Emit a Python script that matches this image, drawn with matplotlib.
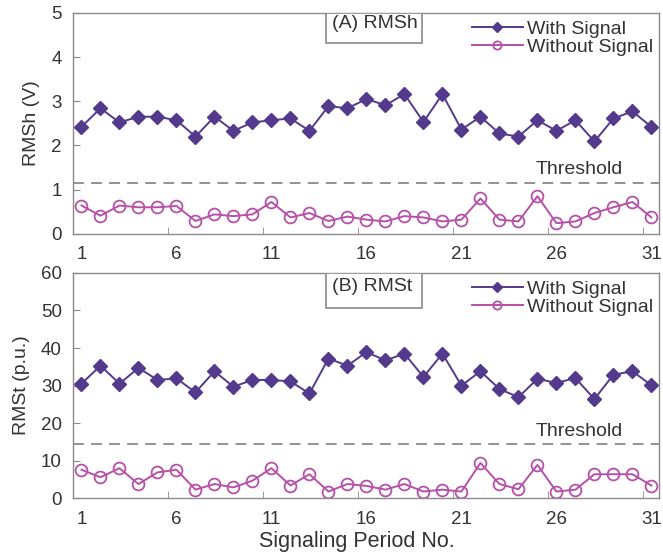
import matplotlib
matplotlib.use("Agg")
import matplotlib.pyplot as plt
from matplotlib.patches import Rectangle

plt.rcParams['font.family'] = ['Liberation Sans', 'DejaVu Sans']

# signaling periods
periods = list(range(1, 32))
tick_labels = ['1', '6', '11', '16', '21', '26', '31']

# (A) RMSh in volts
rmsh_with = [2.42, 2.84, 2.52, 2.65, 2.65, 2.57, 2.20, 2.65, 2.33, 2.52,
             2.57, 2.61, 2.33, 2.89, 2.84, 3.05, 2.91, 3.16, 2.53, 3.16,
             2.36, 2.65, 2.27, 2.20, 2.57, 2.33, 2.57, 2.09, 2.61, 2.77, 2.42]
rmsh_without = [0.64, 0.41, 0.64, 0.60, 0.60, 0.63, 0.29, 0.44, 0.40, 0.44,
                0.72, 0.37, 0.47, 0.29, 0.39, 0.32, 0.28, 0.40, 0.37, 0.28,
                0.32, 0.80, 0.32, 0.28, 0.85, 0.24, 0.28, 0.47, 0.60, 0.72, 0.37]
rmsh_threshold = 1.15

# (B) RMSt in p.u.
rmst_with = [30.5, 35.3, 30.5, 34.7, 31.5, 31.9, 28.2, 33.8, 29.7, 31.5,
             31.5, 31.1, 27.9, 37.2, 35.3, 38.9, 36.7, 38.5, 32.3, 38.5,
             30.0, 33.8, 29.1, 26.9, 31.8, 30.7, 32.0, 26.4, 32.9, 33.8, 30.1]
rmst_without = [7.6, 5.6, 8.0, 3.8, 6.9, 7.6, 2.3, 3.8, 2.9, 4.7,
                8.0, 3.4, 6.4, 1.8, 3.8, 3.3, 2.3, 3.8, 1.8, 2.3,
                1.8, 9.4, 3.8, 2.4, 8.9, 1.8, 2.3, 6.4, 6.4, 6.4, 3.4]
rmst_threshold = 14.5

purple = '#533a8c'
magenta = '#b650a8'
grey = '#8a8a8a'
text_col = '#333333'


def draw_panel(ax, with_sig, without_sig, threshold, ylim, yticks, ylabel, tag, thr_y, box_h, tag_y):
    ax.plot(periods, with_sig, color=purple, lw=1.4, marker='D', ms=7.5,
            mfc=purple, mec=purple, label='With Signal')
    ax.plot(periods, without_sig, color=magenta, lw=1.4, marker='o', ms=8.5,
            mfc='none', mec=magenta, mew=1.3, label='Without Signal')
    ax.axhline(threshold, color=grey, ls=(0, (6, 4)), lw=1.3)
    ax.text(29.5, thr_y, 'Threshold', ha='right', va='center', fontsize=14, color=text_col)

    ax.set_xlim(0.55, 31.4)
    ax.set_ylim(*ylim)
    ax.set_yticks(yticks)
    ax.set_ylabel(ylabel, fontsize=14, color=text_col, labelpad=8)

    # labels centred on the periods, tick marks slightly to the left
    major = [int(t) for t in tick_labels]
    ax.set_xticks(major)
    ax.set_xticklabels(tick_labels)
    ax.set_xticks([m - 0.45 for m in major], minor=True)
    ax.tick_params(axis='x', which='major', length=0, labelsize=13.5, colors=text_col, pad=9)
    ax.tick_params(axis='x', which='minor', direction='in', length=5, color=grey)
    ax.tick_params(axis='y', direction='in', length=5, color=grey, labelsize=13.5,
                   labelcolor=text_col, pad=8)

    for s in ax.spines.values():
        s.set_color(grey)
        s.set_linewidth(1.0)

    # panel tag box hanging from the top spine
    ax.add_patch(Rectangle((0.431, 1.0 - box_h), 0.165, box_h, transform=ax.transAxes,
                           fc='white', ec=grey, lw=1.2, zorder=5))
    ax.text(0.442, tag_y, tag, transform=ax.transAxes, ha='left', va='center', fontsize=14,
            color=text_col, zorder=6)
    ax.legend(loc='upper right', frameon=False, fontsize=14, handlelength=2.6,
              handletextpad=0.25, labelspacing=0.02, borderaxespad=0.0,
              bbox_to_anchor=(1.004, 1.0), labelcolor=text_col, markerscale=0.7)


fig = plt.figure(figsize=(6.63, 5.58), dpi=100)
ax1 = fig.add_axes([0.110, 0.581, 0.884, 0.396])
ax2 = fig.add_axes([0.110, 0.107, 0.884, 0.404])

draw_panel(ax1, rmsh_with, rmsh_without, rmsh_threshold, (0, 5), [0, 1, 2, 3, 4, 5],
           'RMSh (V)', '(A) RMSh', 1.45, 0.136, 0.95)
draw_panel(ax2, rmst_with, rmst_without, rmst_threshold, (0, 60), [0, 10, 20, 30, 40, 50, 60],
           'RMSt (p.u.)', '(B) RMSt', 17.7, 0.155, 0.94)

ax2.set_xlabel('Signaling Period No.', fontsize=15.5, color=text_col)
ax2.xaxis.set_label_coords(0.484, -0.145)

fig.savefig('out.png', dpi=100)
